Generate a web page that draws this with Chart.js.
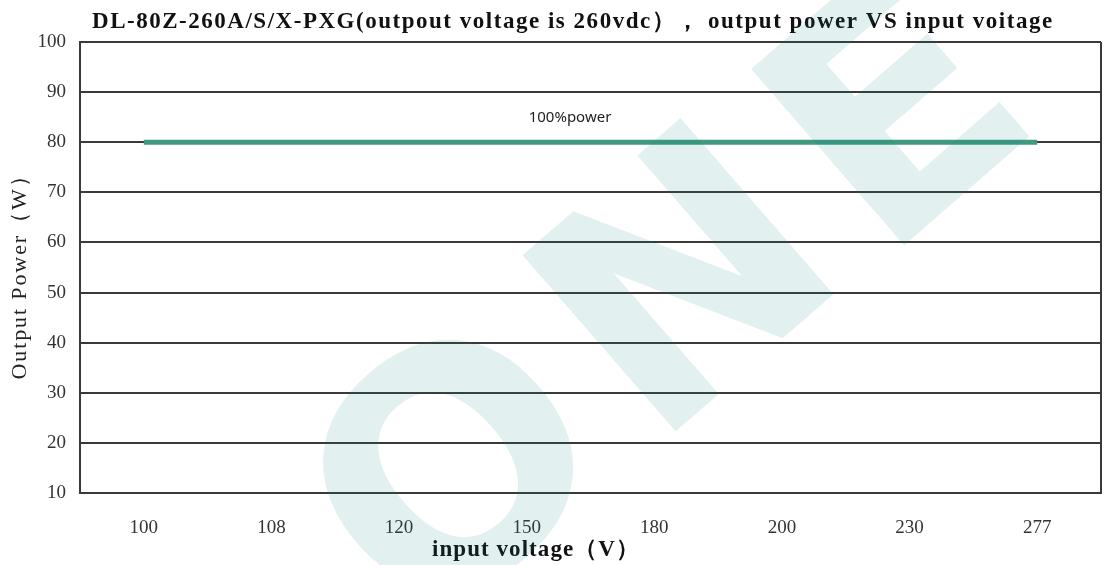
<!DOCTYPE html>
<html>
<head>
<meta charset="utf-8">
<script src="https://cdn.jsdelivr.net/npm/chart.js@4.4.1/dist/chart.umd.min.js"></script>
<style>
  body { margin: 0; background: #fff; }
  #wrap { width: 1104px; height: 565px; }
</style>
</head>
<body>
<div id="wrap"><canvas id="powerChart" width="1104" height="565"></canvas></div>
<script>
// data
const voltages = ["100", "108", "120", "150", "180", "200", "230", "277"];
const powerFull = [80, 80, 80, 80, 80, 80, 80, 80];
const yMin = 10;
const yMax = 100;
const yStep = 10;

const titleText = "DL-80Z-260A/S/X-PXG(outpout voltage is 260vdc）， output power VS input voitage";
const xTitle = "input voltage（V）";
const yTitle = "Output Power（W）";
const seriesLabel = "100%power";

const gridColor = "#3a3a3a";

// stretch a line of text to a given width with letter spacing
function fitText(ctx, text, cx, cy, width) {
  ctx.letterSpacing = "0px";
  const w = ctx.measureText(text).width;
  const sp = (width - w) / text.length;
  ctx.letterSpacing = sp.toFixed(2) + "px";
  ctx.textAlign = "left";
  ctx.fillText(text, cx - width / 2, cy);
  ctx.letterSpacing = "0px";
}

// Start text + frame plugin
const decoPlugin = {
  id: "deco",
  afterDraw(chart) {
    const ctx = chart.ctx;
    const area = chart.chartArea;
    const xs = chart.scales.x;
    const ys = chart.scales.y;

    ctx.save();

    // right frame line
    ctx.strokeStyle = gridColor;
    ctx.lineWidth = 2;
    ctx.beginPath();
    ctx.moveTo(area.right, area.top);
    ctx.lineTo(area.right, area.bottom);
    ctx.stroke();

    ctx.textBaseline = "middle";

    // chart title
    ctx.fillStyle = "#111";
    ctx.font = "bold 23px 'Liberation Serif'";
    fitText(ctx, titleText, 573, 22, 962);

    // x axis title
    ctx.font = "bold 23px 'Liberation Serif'";
    fitText(ctx, xTitle, 536, 550, 208);

    // y axis title
    ctx.save();
    ctx.translate(20, (area.top + area.bottom) / 2 + 4);
    ctx.rotate(-Math.PI / 2);
    ctx.font = "22px 'Liberation Serif'";
    ctx.fillStyle = "#222";
    fitText(ctx, yTitle, 0, 0, 216);
    ctx.restore();

    // series label above the line
    ctx.font = "15px 'Noto Sans'";
    ctx.fillStyle = "#222";
    ctx.textAlign = "left";
    ctx.fillText(seriesLabel, xs.getPixelForValue(3) + 2, ys.getPixelForValue(powerFull[3]) - 24);

    // watermark
    ctx.fillStyle = "rgba(13, 130, 130, 0.12)";
    ctx.font = "bold 320px 'DejaVu Sans'";
    ctx.textAlign = "center";
    const marks = [["O", 470, 490], ["N", 700, 300], ["E", 910, 130]];
    marks.forEach(function (m) {
      ctx.save();
      ctx.translate(m[1], m[2]);
      ctx.rotate(-41 * Math.PI / 180);
      ctx.fillText(m[0], 0, 0);
      ctx.restore();
    });

    ctx.restore();
  },
};
// End text + frame plugin

const ctx = document.getElementById("powerChart").getContext("2d");

const powerChart = new Chart(ctx, {
  type: "line",
  data: {
    labels: voltages,
    datasets: [
      {
        label: seriesLabel,
        data: powerFull,
        borderColor: "#3f9a7f",
        backgroundColor: "#3f9a7f",
        borderWidth: 5,
        borderCapStyle: "butt",
        pointRadius: 0,
        tension: 0,
      },
    ],
  },
  options: {
    responsive: false,
    animation: false,
    layout: {
      padding: { top: 42, right: 3, left: 0, bottom: 0 },
    },
    plugins: {
      legend: { display: false },
      tooltip: { enabled: false },
      title: { display: false },
    },
    scales: {
      x: {
        offset: true,
        grid: { display: false },
        border: { display: true, color: gridColor, width: 2 },
        ticks: {
          padding: 16,
          color: "#333",
          font: { family: "'Liberation Serif'", size: 19 },
          maxRotation: 0,
        },
        afterFit(scale) {
          scale.height = 72;
        },
      },
      y: {
        min: yMin,
        max: yMax,
        grid: { color: gridColor, lineWidth: 2, drawTicks: false },
        border: { display: true, color: gridColor, width: 2 },
        ticks: {
          stepSize: yStep,
          padding: 14,
          color: "#333",
          font: { family: "'Liberation Serif'", size: 19 },
        },
        afterFit(scale) {
          scale.width = 80;
        },
      },
    },
  },
  plugins: [decoPlugin],
});
</script>
</body>
</html>
